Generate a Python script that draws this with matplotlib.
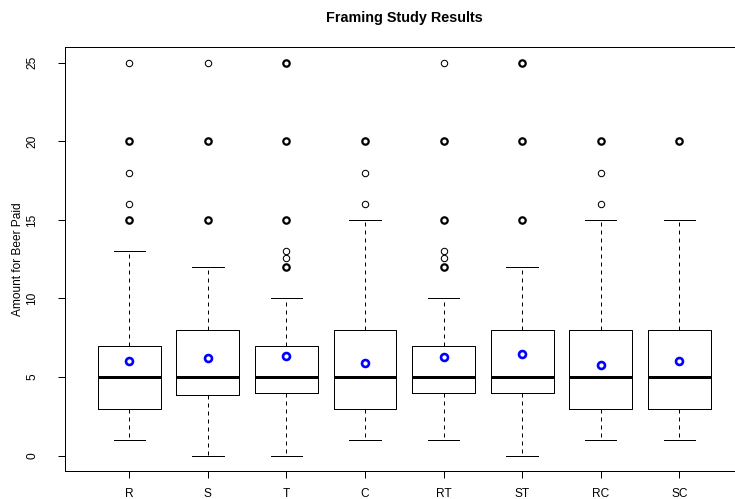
import numpy as np
import matplotlib
matplotlib.use('Agg')
import matplotlib.pyplot as plt
from matplotlib import rcParams

rcParams['font.family'] = 'Liberation Sans'

## Box summary values
groups = ['R', 'S', 'T', 'C', 'RT', 'ST', 'RC', 'SC']
whislo = [1, 0, 0, 1, 1, 0, 1, 1]
q1 = [3, 3.88, 4, 3, 4, 4, 3, 3]
med = [5, 5, 5, 5, 5, 5, 5, 5]
q3 = [7, 8, 7, 8, 7, 8, 8, 8]
whishi = [13, 12, 10, 15, 10, 12, 15, 15]
means = [6.05, 6.23, 6.37, 5.87, 6.30, 6.45, 5.74, 6.0]

## Outliers (value, how many overplotted)
out_vals = [
    [15, 16, 18, 20, 25],
    [15, 20, 25],
    [12, 12.6, 13, 15, 20, 25],
    [16, 18, 20],
    [12, 12.6, 13, 15, 20, 25],
    [15, 20, 25],
    [16, 18, 20],
    [20],
]
out_counts = [
    [3, 1, 1, 3, 1],
    [3, 3, 1],
    [3, 1, 1, 3, 3, 3],
    [1, 1, 3],
    [3, 1, 1, 3, 3, 1],
    [3, 3, 3],
    [1, 1, 3],
    [3],
]

px = 0.72  # one pixel in points at dpi 100

fig = plt.figure(figsize=(7.35, 4.99), dpi=100)
ax = fig.add_axes([65 / 735, 1 - 471.4 / 499, 1 - 65 / 735, (471.4 - 47) / 499])

stats = []
for k, g in enumerate(groups):
    stats.append(dict(label=g, whislo=whislo[k], q1=q1[k], med=med[k], q3=q3[k],
                      whishi=whishi[k], fliers=[]))

pos = np.arange(1, len(groups) + 1)
ax.bxp(stats, positions=pos, widths=0.8, showfliers=False,
       boxprops=dict(color='black', linewidth=px),
       whiskerprops=dict(color='black', linewidth=px, linestyle=(0, (4, 4))),
       capprops=dict(color='black', linewidth=px),
       capwidths=0.4,
       medianprops=dict(color='black', linewidth=3 * px))

# outliers, the repeated ones look heavier
for k in range(len(groups)):
    for v, c in zip(out_vals[k], out_counts[k]):
        ax.plot(pos[k], v, 'o', mfc='none', mec='black', ms=4.6,
                mew=(1.6 if c > 1 else 0.75))

# group means
ax.plot(pos, means, 'o', mfc='none', mec='blue', ms=5.0, mew=1.9, linestyle='none')

ax.set_xlim(0.182, 8.709)
ax.set_ylim(-1, 26)
ax.set_xticks(pos)
ax.set_xticklabels(groups, fontsize=8.6)
ax.set_yticks([0, 5, 10, 15, 20, 25])
ax.set_yticklabels(['0', '5', '10', '15', '20', '25'], fontsize=8.6, rotation=90, va='center')
ax.tick_params(axis='both', length=5.2, width=px)
ax.tick_params(axis='x', pad=7)
ax.tick_params(axis='y', pad=14)
ax.spines['right'].set_visible(False)
for s in ['left', 'top', 'bottom']:
    ax.spines[s].set_linewidth(px)
ax.set_ylabel('Amount for Beer Paid', fontsize=8.6, labelpad=2)

fig.text(404 / 735, 1 - 18 / 499, 'Framing Study Results', fontsize=10.4,
         fontweight='bold', ha='center', va='center')

fig.savefig('out.png', dpi=100)
